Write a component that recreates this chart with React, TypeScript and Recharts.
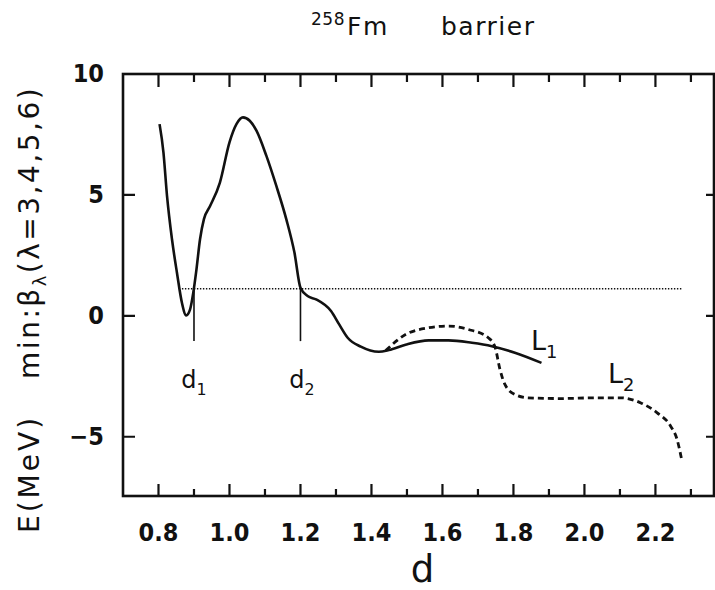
import { LineChart, Line, XAxis, YAxis } from "recharts";

// fission barrier along elongation d, solid curve (ends as path L1)
const barrierD = [0.803, 0.814, 0.824, 0.838, 0.852, 0.866, 0.878, 0.889, 0.898, 0.907, 0.917, 0.928, 0.945, 0.973, 1.0, 1.02, 1.038, 1.057, 1.076, 1.104, 1.132, 1.16, 1.183, 1.2, 1.22, 1.244, 1.286, 1.309, 1.333, 1.37, 1.421, 1.449, 1.496, 1.561, 1.617, 1.683, 1.739, 1.804, 1.879];
const barrierE = [7.89, 6.72, 4.93, 3.14, 1.76, 0.52, 0.0, 0.25, 0.94, 1.9, 3.14, 3.97, 4.5, 5.48, 7.14, 7.9, 8.17, 8.03, 7.62, 6.58, 5.34, 3.97, 2.59, 1.14, 0.8, 0.66, 0.18, -0.37, -0.92, -1.29, -1.5, -1.43, -1.21, -1.03, -1.03, -1.13, -1.27, -1.54, -1.96];

// second path L2 (dashed)
const pathL2D = [1.44, 1.496, 1.561, 1.617, 1.673, 1.729, 1.748, 1.762, 1.776, 1.804, 1.841, 1.934, 2.028, 2.102, 2.159, 2.205, 2.243, 2.261, 2.273];
const pathL2E = [-1.45, -0.79, -0.51, -0.44, -0.58, -0.92, -1.3, -2.23, -2.85, -3.26, -3.4, -3.43, -3.4, -3.4, -3.61, -4.02, -4.57, -5.12, -5.88];

// dotted energy level and the d1 / d2 markers
const levelD = [0.866, 2.275];
const levelE = 1.1;
const markerD = [0.9, 1.2];
const markerE = [1.1, -1.06];

const xTicks = [0.8, 0.9, 1.0, 1.1, 1.2, 1.3, 1.4, 1.5, 1.6, 1.7, 1.8, 1.9, 2.0, 2.1, 2.2, 2.3];
const xLabelTicks = [0.8, 1.0, 1.2, 1.4, 1.6, 1.8, 2.0, 2.2];
const yTicks = [-5, 0, 5, 10];
const xDomain = [0.7, 2.365];
const yDomain = [-7.45, 10];

const barrier = barrierD.map((d, i) => ({ d, e: barrierE[i] }));
const pathL2 = pathL2D.map((d, i) => ({ d, e: pathL2E[i] }));
const level = levelD.map((d) => ({ d, e: levelE }));
const markers = markerD.map((d) => markerE.map((e) => ({ d, e })));

const isMajor = (v: number) => Math.round(v * 10) % 2 === 0;
const [xMin, xMax] = xDomain;
const [yMin, yMax] = yDomain;

// plot box: margins plus the 1px axis bands
const MARGIN = { top: 73, right: 1, bottom: 93, left: 122 };
const BOX = { left: MARGIN.left + 1, top: MARGIN.top + 1, right: 715 - MARGIN.right, bottom: 590 - MARGIN.bottom - 1 };
const sx = (v: number) => BOX.left + ((v - xMin) / (xMax - xMin)) * (BOX.right - BOX.left);
const sy = (v: number) => BOX.bottom - ((v - yMin) / (yMax - yMin)) * (BOX.bottom - BOX.top);

const INK = "#111";
const tickStyle = { fill: INK, fontSize: 25, fontWeight: 700, fontFamily: "'DejaVu Sans Condensed', 'DejaVu Sans', sans-serif" };
const textFont = { fontFamily: "'DejaVu Sans', sans-serif", fill: INK };

// text with a subscript
function Sub({ x, y, main, sub, size, anchor }: { x: number; y: number; main: string; sub: string; size: number; anchor: "start" | "middle" }) {
  return (
    <text x={x} y={y} textAnchor={anchor} style={{ ...textFont, fontSize: size }}>
      {main}
      <tspan fontSize={size * 0.66} dy={size * 0.28}>{sub}</tspan>
    </text>
  );
}

// closed box with inward ticks on all four sides
function Frame() {
  const ticks: string[] = [];
  xTicks.forEach((v) => {
    const x = sx(v);
    ticks.push(`M${x},${BOX.bottom}V${BOX.bottom - (isMajor(v) ? 12 : 7)}`);
    ticks.push(`M${x},${BOX.top}V${BOX.top + (isMajor(v) ? 13 : 8)}`);
  });
  yTicks.filter((v) => v !== yMax).forEach((v) => {
    const y = sy(v);
    ticks.push(`M${BOX.left},${y}H${BOX.left + 12}`);
    ticks.push(`M${BOX.right},${y}H${BOX.right - 8}`);
  });
  return (
    <g>
      <rect x={BOX.left} y={BOX.top} width={BOX.right - BOX.left} height={BOX.bottom - BOX.top} fill="none" stroke={INK} strokeWidth={2.6} />
      <path d={ticks.join("")} stroke={INK} strokeWidth={2.2} fill="none" />
    </g>
  );
}

export default function App() {
  return (
    <div style={{ position: "absolute", left: 0, top: 0, width: 715, height: 590, background: "#fff" }}>
      <LineChart width={715} height={590} margin={MARGIN}>
        <XAxis dataKey="d" type="number" domain={xDomain} ticks={xLabelTicks} interval={0} height={1}
          tickLine={false} tickMargin={21} tick={tickStyle} tickFormatter={(v: number) => v.toFixed(1)} axisLine={false} />
        <YAxis type="number" domain={yDomain} ticks={yTicks} interval={0} width={1}
          tickLine={false} tickMargin={13} tick={tickStyle} tickFormatter={(v: number) => (v < 0 ? `\u2212${-v}` : String(v))} axisLine={false} />

        <Line id="level" data={level} dataKey="e" type="linear" stroke={INK} strokeWidth={1.6} strokeDasharray="1.4 1.6" dot={false} isAnimationActive={false} />
        {markers.map((m, i) => (
          <Line key={i} id={`marker-${i}`} data={m} dataKey="e" type="linear" stroke={INK} strokeWidth={1.6} dot={false} isAnimationActive={false} />
        ))}
        <Line id="l2" data={pathL2} dataKey="e" type="monotone" stroke={INK} strokeWidth={2.8} strokeDasharray="6 4" dot={false} isAnimationActive={false} />
        <Line id="barrier" data={barrier} dataKey="e" type="monotone" stroke={INK} strokeWidth={2.6} dot={false} isAnimationActive={false} />
      </LineChart>

      <svg width={715} height={590} style={{ position: "absolute", left: 0, top: 0, pointerEvents: "none" }}>
        <Frame />
        <text x={311} y={25} style={{ ...textFont, fontSize: 17 }} letterSpacing={0.5}>258</text>
        <text x={347} y={35} style={{ ...textFont, fontSize: 25 }} letterSpacing={1.5}>Fm</text>
        <text x={441} y={35} style={{ ...textFont, fontSize: 25 }} letterSpacing={1.5}>barrier</text>
        <text transform="translate(39,533) rotate(-90)" style={{ ...textFont, fontSize: 28 }} letterSpacing={3}>
          E(MeV)
          <tspan dx={36} letterSpacing={2.5}>min:β</tspan>
          <tspan fontSize={18} dy={7} letterSpacing={2.5}>λ</tspan>
          <tspan dy={-7} letterSpacing={2.5}>(λ=3,4,5,6)</tspan>
        </text>
        <text x={422.5} y={582} textAnchor="middle" style={{ ...textFont, fontSize: 37 }}>d</text>
        <Sub x={194} y={388} main="d" sub="1" size={24} anchor="middle" />
        <Sub x={302} y={388} main="d" sub="2" size={24} anchor="middle" />
        <Sub x={531} y={350} main="L" sub="1" size={27} anchor="start" />
        <Sub x={608} y={383} main="L" sub="2" size={27} anchor="start" />
      </svg>
    </div>
  );
}
